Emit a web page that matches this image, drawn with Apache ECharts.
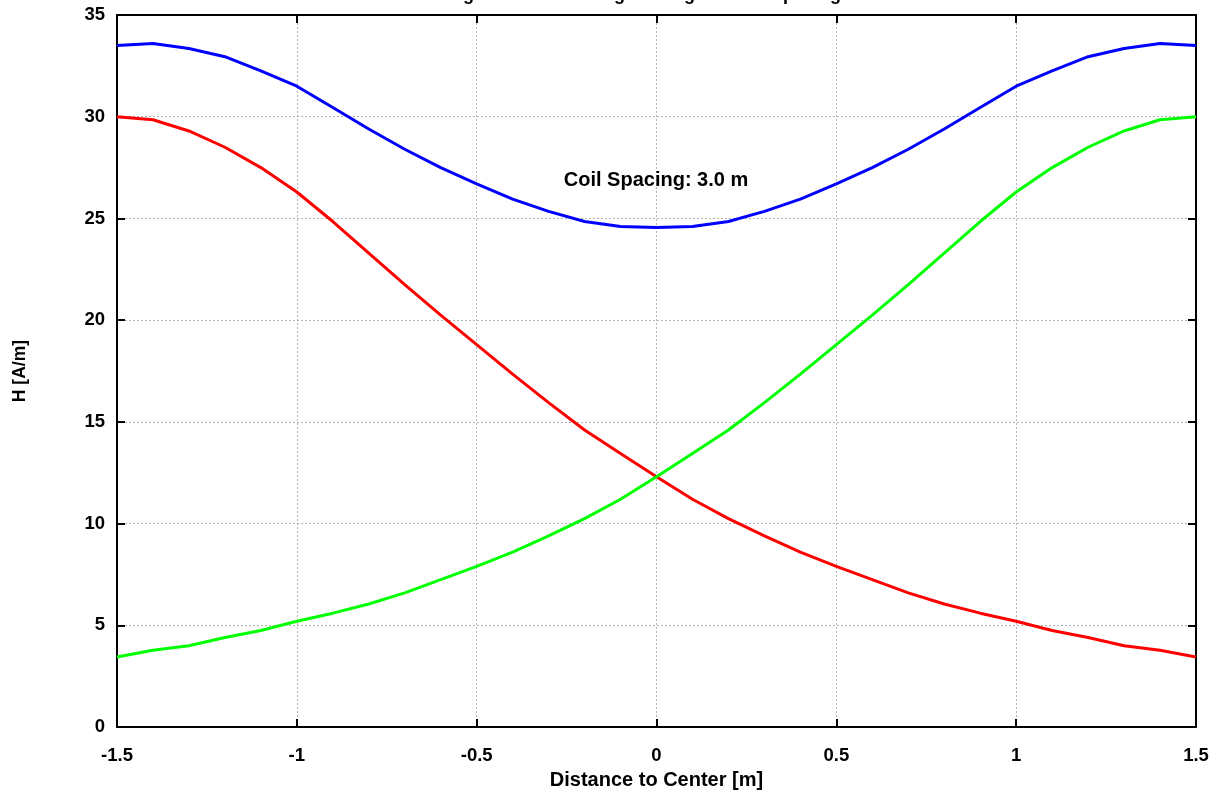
<!DOCTYPE html>
<html>
<head>
<meta charset="utf-8">
<script src="https://cdn.jsdelivr.net/npm/echarts@6/dist/echarts.min.js"></script>
<style>
html,body{margin:0;padding:0;background:#fff;}
#chart{width:1220px;height:795px;}
</style>
</head>
<body>
<div id="chart"></div>
<script>
// Distance to center [m]
const distance = [-1.5,-1.4,-1.3,-1.2,-1.1,-1.0,-0.9,-0.8,-0.7,-0.6,-0.5,-0.4,-0.3,-0.2,-0.1,0,
                  0.1,0.2,0.3,0.4,0.5,0.6,0.7,0.8,0.9,1.0,1.1,1.2,1.3,1.4,1.5];
// H [A/m] of the left coil (red)
const hLeft  = [30.0,29.85,29.3,28.5,27.5,26.3,24.85,23.3,21.75,20.25,18.8,17.35,15.95,14.6,13.45,12.3,
                11.2,10.25,9.4,8.6,7.9,7.25,6.6,6.05,5.6,5.2,4.75,4.4,4.0,3.78,3.45];
// H [A/m] of the right coil (green)
const hRight = [3.45,3.78,4.0,4.4,4.75,5.2,5.6,6.05,6.6,7.25,7.9,8.6,9.4,10.25,11.2,12.3,
                13.45,14.6,15.95,17.35,18.8,20.25,21.75,23.3,24.85,26.3,27.5,28.5,29.3,29.85,30.0];
// H [A/m] total (blue)
const hTotal = [33.5,33.6,33.35,32.95,32.25,31.5,30.45,29.4,28.4,27.5,26.7,25.95,25.35,24.85,24.6,24.55,
                24.6,24.85,25.35,25.95,26.7,27.5,28.4,29.4,30.45,31.5,32.25,32.95,33.35,33.6,33.5];

const titleText = "Magnetic Field Strength along the Coil Spacing Axis";
const annotation = "Coil Spacing: 3.0 m";
const xName = "Distance to Center [m]";
const yName = "H [A/m]";

const pairs = ys => distance.map((x, i) => [x, ys[i]]);

const chart = echarts.init(document.getElementById('chart'), null, {renderer: 'canvas'});
const font = 'Liberation Sans, Arial, sans-serif';
const frame = {show: true, onZero: false, lineStyle: {color: '#000', width: 2}};
const tick = {show: true, inside: true, length: 8, lineStyle: {color: '#000', width: 2}};
const gridLine = {show: true, lineStyle: {color: '#b4b4b4', type: [2, 2], width: 1}};

chart.setOption({
  animation: false,
  backgroundColor: '#fff',
  title: {
    text: titleText, left: 656, textAlign: 'center', top: -19,
    textStyle: {fontFamily: font, fontWeight: 'bold', fontSize: 18, color: '#000'}
  },
  grid: {left: 117, right: 24, top: 15, bottom: 64, containLabel: false},
  xAxis: [{
    type: 'value', min: -1.5, max: 1.5, interval: 0.5,
    name: xName, nameLocation: 'middle', nameGap: 41,
    nameTextStyle: {fontFamily: font, fontWeight: 'bold', fontSize: 20, color: '#000'},
    axisLine: frame, axisTick: tick,
    axisLabel: {fontFamily: font, fontWeight: 'bold', fontSize: 18.5, color: '#000', margin: 19},
    splitLine: gridLine
  }, {
    type: 'value', position: 'top', min: -1.5, max: 1.5, interval: 0.5,
    axisLine: frame, axisTick: tick,
    axisLabel: {show: false}, splitLine: {show: false}
  }],
  yAxis: [{
    type: 'value', min: 0, max: 35, interval: 5,
    name: yName, nameLocation: 'middle', nameGap: 88, nameRotate: 90,
    nameTextStyle: {fontFamily: font, fontWeight: 'bold', fontSize: 17.5, color: '#000'},
    axisLine: frame, axisTick: tick,
    axisLabel: {fontFamily: font, fontWeight: 'bold', fontSize: 18.5, color: '#000', margin: 12},
    splitLine: gridLine
  }, {
    type: 'value', position: 'right', min: 0, max: 35, interval: 5,
    axisLine: frame, axisTick: tick,
    axisLabel: {show: false}, splitLine: {show: false}
  }],
  series: [
    {type: 'line', name: 'Total', data: pairs(hTotal), showSymbol: false,
     lineStyle: {color: '#0000ff', width: 3}, itemStyle: {color: '#0000ff'}},
    {type: 'line', name: 'Left coil', data: pairs(hLeft), showSymbol: false,
     lineStyle: {color: '#ff0000', width: 3}, itemStyle: {color: '#ff0000'}},
    {type: 'line', name: 'Right coil', data: pairs(hRight), showSymbol: false,
     lineStyle: {color: '#00ff00', width: 3}, itemStyle: {color: '#00ff00'}}
  ],
  graphic: [{
    type: 'text', x: 656, y: 180, z: 100,
    style: {text: annotation, align: 'center', verticalAlign: 'middle',
            font: 'bold 20px ' + font, fill: '#000'}
  }]
});
</script>
</body>
</html>
